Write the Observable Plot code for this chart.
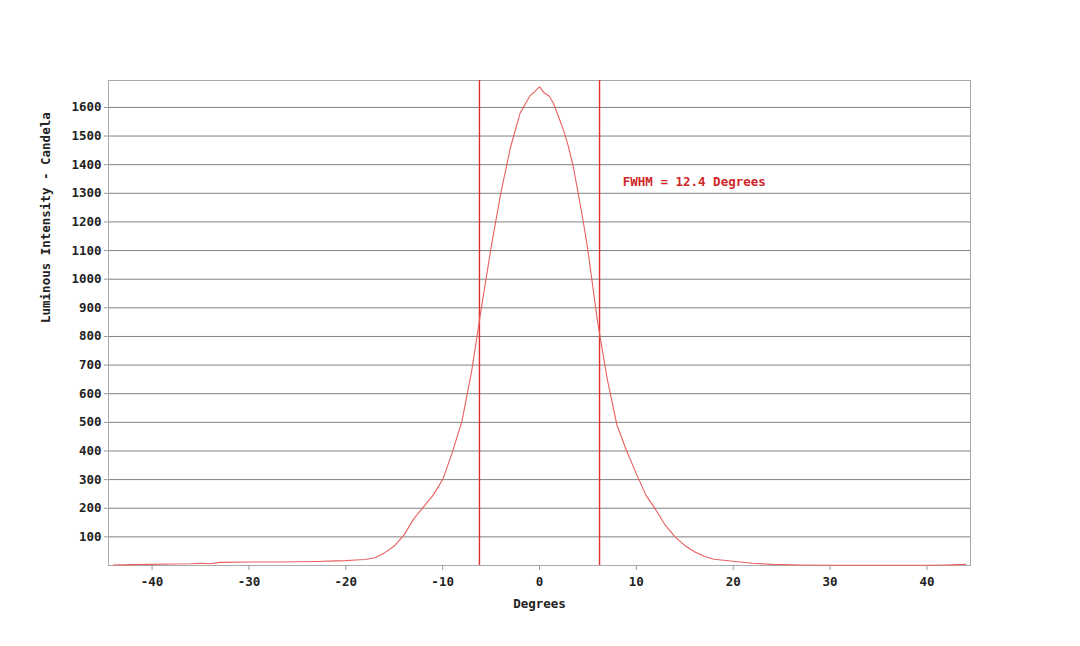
<!DOCTYPE html>
<html><head><meta charset="utf-8">
<script src="https://cdn.jsdelivr.net/npm/d3@7"></script>
<script src="https://cdn.jsdelivr.net/npm/@observablehq/plot@0.6"></script>
<style>
body{margin:0;background:#fff;}
#chart svg{display:block;}
</style>
</head><body><div id="chart"></div>
<script>
const degrees = [-44,-42,-40,-38,-36,-35,-34,-33,-30,-27,-25,-23,-21,-20,-19,-18,-17,-16,-15,-14,-13,-12,-11,-10,-9,-8,-7,-6,-5,-4,-3,-2,-1.5,-1,-0.5,0,0.5,1,1.5,2,2.5,3,3.5,4,4.5,5,6,7,8,9,10,11,12,13,14,15,16,17,18,20,22,24,27,30,35,40,42,44];
const candela = [2,3,4,5,6,8,6,11,12,12,13,14,16,17,19,21,27,44,68,106,162,204,245,300,395,505,680,900,1110,1300,1460,1580,1610,1640,1655,1672,1650,1640,1610,1565,1519,1461,1391,1299,1205,1100,850,650,490,400,320,245,195,140,100,70,48,32,22,15,8,4,2,1,1,1,2,4];
const fwhmLines = [-6.2, 6.2];
const xTicks = [-40,-30,-20,-10,0,10,20,30,40];
const yTicks = [100,200,300,400,500,600,700,800,900,1000,1100,1200,1300,1400,1500,1600];
const annotation = [{x: 8.6, y: 1341, text: "FWHM = 12.4 Degrees"}];

const data = degrees.map((d,i)=>({deg:d, cd:candela[i]}));

const chart = Plot.plot({
  width: 1080, height: 646,
  marginLeft: 108, marginRight: 110, marginTop: 80, marginBottom: 81,
  style: {fontFamily: "'DejaVu Sans Mono', monospace", fontSize: "12.5px", fontWeight: "bold", background: "#fff", color: "#222"},
  x: {domain: [-44.5, 44.5]},
  y: {domain: [0, 1694]},
  marks: [
    Plot.gridY(yTicks, {stroke: "#808080", strokeOpacity: 1}),
    Plot.frame({stroke: "#aaa"}),
    Plot.ruleX(fwhmLines, {x: d => d, stroke: "#e03030", strokeOpacity: 1, strokeWidth: 1.4}),
    Plot.line(data, {x: "deg", y: "cd", stroke: "#e86060", strokeWidth: 1.1}),
    Plot.text(annotation, {x: "x", y: "y", text: "text", textAnchor: "start", fill: "#d02828", fontSize: 12.5}),
    Plot.axisX(xTicks, {tickSize: 5, tickPadding: 7, stroke: "#999", label: null, tickFormat: d => String(d)}),
    Plot.axisY(yTicks, {tickSize: 4, tickPadding: 3, stroke: "#999", label: null, tickFormat: d => String(d)}),
    Plot.text(["Degrees"], {frameAnchor: "bottom", dy: 42, text: d => d, fill: "#222"}),
    Plot.text(["Luminous Intensity - Candela"], {frameAnchor: "left", dx: -63, rotate: -90, text: d => d, fill: "#222"})
  ]
});
document.getElementById("chart").appendChild(chart);
</script>
</body></html>
